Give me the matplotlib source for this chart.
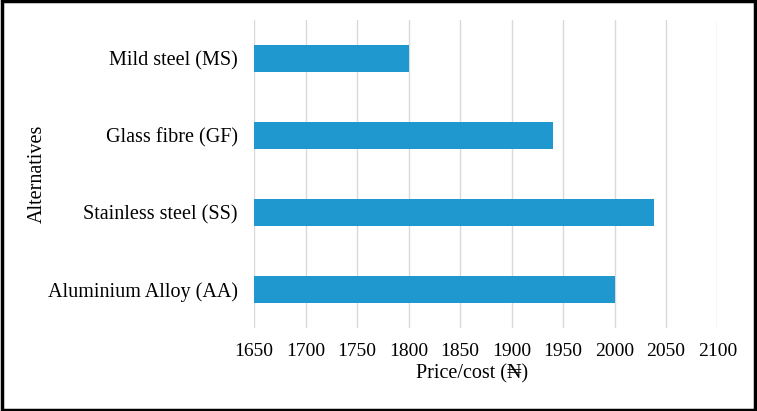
import matplotlib
matplotlib.use('Agg')
import matplotlib.pyplot as plt
from matplotlib.patches import Rectangle

plt.rcParams['font.family'] = ['Liberation Serif', 'DejaVu Serif']

alternatives = ['Aluminium Alloy (AA)', 'Stainless steel (SS)', 'Glass fibre (GF)', 'Mild steel (MS)']
prices = [2000, 2038, 1940, 1800]
xticks = [1650, 1700, 1750, 1800, 1850, 1900, 1950, 2000, 2050, 2100]

fig = plt.figure(figsize=(7.57, 4.11), dpi=100)
ax = fig.add_axes([0.3358, 0.2019, 0.6120, 0.7494])

ypos = list(range(len(alternatives)))
ax.barh(ypos, [p - 1650 for p in prices], left=1650, height=0.34, color='#1f97cf', zorder=2)

ax.set_xlim(1650, 2100)
ax.set_ylim(-0.5, 3.5)
ax.set_xticks(xticks)
ax.set_xticklabels([str(t) for t in xticks], fontsize=14)
ax.set_yticks(ypos)
ax.set_yticklabels(alternatives, fontsize=14.5)
ax.tick_params(length=0, pad=12)
ax.tick_params(axis='x', pad=11)
ax.grid(axis='x', color='#d9d9d9', linewidth=1, zorder=0)
for s in ax.spines.values():
    s.set_visible(False)

ax.set_xlabel('Price/cost (\u20a6)', fontsize=14.5)
ax.xaxis.set_label_coords(0.47, -0.118)
ax.set_ylabel('Alternatives', fontsize=14.5)
ax.yaxis.set_label_coords(-0.447, 0.5)

fig.patches.append(Rectangle((0.002, 0.003), 0.996, 0.994, transform=fig.transFigure,
                             fill=False, edgecolor='black', linewidth=2.5))

plt.savefig('out.png', dpi=100)
plt.close()
